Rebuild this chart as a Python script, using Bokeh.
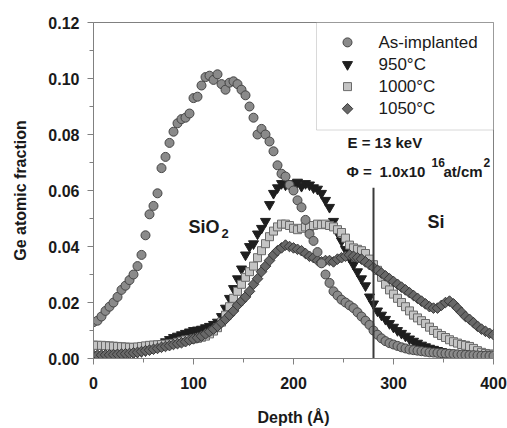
import math
from bokeh.plotting import figure
from bokeh.models import ColumnDataSource, Label, FixedTicker, BoxAnnotation
from bokeh.embed import file_html
from bokeh.resources import INLINE

# ---------------- data ----------------
depth = list(range(0, 401, 4))

as_implanted = [
    0.0130, 0.0135, 0.0150, 0.0170, 0.0185, 0.0200, 0.0220, 0.0245, 0.0260, 0.0280,
    0.0300, 0.0330, 0.0370, 0.0440, 0.0515, 0.0545, 0.0590, 0.0680, 0.0720, 0.0770,
    0.0810, 0.0840, 0.0855, 0.0860, 0.0875, 0.0930, 0.0935, 0.0975, 0.1005, 0.1010,
    0.0995, 0.1015, 0.0980, 0.0960, 0.0985, 0.0990, 0.0980, 0.0960, 0.0940, 0.0900,
    0.0860, 0.0800, 0.0820, 0.0800, 0.0775, 0.0740, 0.0690, 0.0660, 0.0650, 0.0620,
    0.0600, 0.0565, 0.0540, 0.0495, 0.0445, 0.0420, 0.0380, 0.0340, 0.0300, 0.0270,
    0.0240, 0.0225, 0.0210, 0.0200, 0.0190, 0.0180, 0.0165, 0.0150, 0.0135, 0.0120,
    0.0100, 0.0085, 0.0072, 0.0062, 0.0055, 0.0050, 0.0045, 0.0040, 0.0036, 0.0032,
    0.0030, 0.0028, 0.0026, 0.0024, 0.0022, 0.0021, 0.0020, 0.0019, 0.0018, 0.0017,
    0.0016, 0.0015, 0.0014, 0.0013, 0.0012, 0.0012, 0.0011, 0.0010, 0.0010, 0.0009,
    0.0009,
]

t950 = [
    0.0012, 0.0012, 0.0013, 0.0013, 0.0014, 0.0014, 0.0015, 0.0016, 0.0017, 0.0018,
    0.0020, 0.0022, 0.0025, 0.0028, 0.0032, 0.0038, 0.0045, 0.0052, 0.0060, 0.0068,
    0.0075, 0.0080, 0.0085, 0.0090, 0.0095, 0.0100, 0.0102, 0.0105, 0.0110, 0.0115,
    0.0122, 0.0130, 0.0150, 0.0180, 0.0215, 0.0250, 0.0285, 0.0320, 0.0370, 0.0400,
    0.0410, 0.0445, 0.0465, 0.0490, 0.0550, 0.0590, 0.0610, 0.0625, 0.0620, 0.0625,
    0.0620, 0.0630, 0.0615, 0.0625, 0.0620, 0.0610, 0.0605, 0.0590, 0.0565, 0.0540,
    0.0490, 0.0450, 0.0420, 0.0390, 0.0360, 0.0335, 0.0310, 0.0285, 0.0260, 0.0220,
    0.0195, 0.0170, 0.0155, 0.0140, 0.0125, 0.0112, 0.0100, 0.0090, 0.0080, 0.0070,
    0.0062, 0.0055, 0.0048, 0.0042, 0.0037, 0.0033, 0.0029, 0.0025, 0.0022, 0.0019,
    0.0017, 0.0015, 0.0013, 0.0012, 0.0010, 0.0009, 0.0008, 0.0008, 0.0007, 0.0006,
    0.0006,
]

t1000 = [
    0.0048, 0.0047, 0.0047, 0.0046, 0.0045, 0.0044, 0.0043, 0.0042, 0.0041, 0.0040,
    0.0040, 0.0041, 0.0043, 0.0045, 0.0047, 0.0048, 0.0049, 0.0050, 0.0051, 0.0052,
    0.0054, 0.0058, 0.0062, 0.0066, 0.0068, 0.0070, 0.0072, 0.0076, 0.0080, 0.0088,
    0.0098, 0.0110, 0.0130, 0.0155, 0.0185, 0.0215, 0.0240, 0.0265, 0.0290, 0.0310,
    0.0330, 0.0360, 0.0385, 0.0410, 0.0435, 0.0455, 0.0470, 0.0480, 0.0480, 0.0475,
    0.0465, 0.0460, 0.0465, 0.0470, 0.0470, 0.0475, 0.0480, 0.0478, 0.0480, 0.0475,
    0.0470, 0.0460, 0.0450, 0.0430, 0.0405, 0.0395, 0.0390, 0.0385, 0.0375, 0.0355,
    0.0335, 0.0315, 0.0290, 0.0265, 0.0245, 0.0230, 0.0215, 0.0200, 0.0185, 0.0170,
    0.0155, 0.0145, 0.0135, 0.0125, 0.0112, 0.0100, 0.0090, 0.0082, 0.0075, 0.0067,
    0.0060, 0.0055, 0.0050, 0.0047, 0.0043, 0.0036, 0.0028, 0.0022, 0.0018, 0.0016,
    0.0015,
]

t1050 = [
    0.0012, 0.0012, 0.0012, 0.0013, 0.0013, 0.0014, 0.0015, 0.0016, 0.0017, 0.0018,
    0.0020, 0.0022, 0.0025, 0.0028, 0.0030, 0.0033, 0.0036, 0.0040, 0.0043, 0.0046,
    0.0050, 0.0053, 0.0056, 0.0060, 0.0065, 0.0070, 0.0074, 0.0080, 0.0088, 0.0096,
    0.0105, 0.0115, 0.0128, 0.0140, 0.0155, 0.0170, 0.0190, 0.0205, 0.0220, 0.0240,
    0.0265, 0.0285, 0.0310, 0.0330, 0.0350, 0.0370, 0.0385, 0.0395, 0.0405, 0.0400,
    0.0395, 0.0390, 0.0385, 0.0375, 0.0365, 0.0360, 0.0350, 0.0345, 0.0350, 0.0350,
    0.0345, 0.0355, 0.0360, 0.0365, 0.0370, 0.0365, 0.0360, 0.0355, 0.0345, 0.0335,
    0.0325, 0.0315, 0.0305, 0.0295, 0.0285, 0.0275, 0.0265, 0.0255, 0.0245, 0.0235,
    0.0225, 0.0215, 0.0205, 0.0195, 0.0185, 0.0180, 0.0180, 0.0190, 0.0200, 0.0205,
    0.0195, 0.0180, 0.0165, 0.0150, 0.0140, 0.0128, 0.0115, 0.0105, 0.0097, 0.0090,
    0.0085,
]

series_labels = ["As-implanted", "950\u00b0C", "1000\u00b0C", "1050\u00b0C"]
interface_depth = [280]
interface_top = [0.061]
x_ticks = [0, 100, 200, 300, 400]
y_ticks = [0.00, 0.02, 0.04, 0.06, 0.08, 0.10, 0.12]

# ---------------- figure ----------------
FONT = "Liberation Sans"
TXT = "#1a1a1a"
AX = "#808080"

p = figure(width=507, height=428, x_range=(0, 400), y_range=(0, 0.12),
           output_backend="svg", toolbar_location=None,
           min_border_left=93, min_border_right=14,
           min_border_top=22, min_border_bottom=68)
p.background_fill_color = "white"
p.border_fill_color = "white"
p.outline_line_color = AX
p.outline_line_width = 1
p.xgrid.visible = False
p.ygrid.visible = False

src = ColumnDataSource(dict(depth=depth, a=as_implanted, b=t950, c=t1000, d=t1050))

TRI = dict(marker="inverted_triangle", size=10, fill_color="#1e1e1e", line_color="#1e1e1e", line_width=1)
SQ = dict(marker="square", size=8, fill_color="#c4c4c4", line_color="#6a6a6a", line_width=1)
DIA = dict(marker="square", size=7.5, angle=math.pi / 4, fill_color="#686868", line_color="#383838", line_width=1)
CIR = dict(marker="circle", size=9, fill_color="#8a8a8a", line_color="#454545", line_width=1)
styles = [CIR, TRI, SQ, DIA]

# legend frame (drawn underneath the data, no data falls inside it)
LEG_LEFT, LEG_BOTTOM = 223, 0.0816
box = BoxAnnotation(left=LEG_LEFT, right=400, bottom=LEG_BOTTOM, top=0.12,
                    fill_color="white", fill_alpha=1.0,
                    line_color=AX, line_width=1, level="underlay")
p.add_layout(box)

p.scatter("depth", "b", source=src, **TRI)
p.scatter("depth", "c", source=src, **SQ)
p.scatter("depth", "d", source=src, **DIA)
p.scatter("depth", "a", source=src, **CIR)

# interface line
p.segment(x0=interface_depth, y0=[0], x1=interface_depth, y1=interface_top,
          line_color="#3a3a3a", line_width=2)

# legend keys and labels
ROW0, ROW_STEP = 0.1129, 0.0079
for i, (name, st) in enumerate(zip(series_labels, styles)):
    yk = ROW0 - i * ROW_STEP
    p.scatter(x=[LEG_LEFT + 31], y=[yk], **st)
    p.add_layout(Label(x=LEG_LEFT + 62, y=yk, text=name, text_font=FONT,
                       text_font_size="17px", text_color=TXT, text_baseline="middle"))

# axes
for ax in (p.xaxis[0], p.yaxis[0]):
    ax.axis_line_color = AX
    ax.major_tick_line_color = AX
    ax.minor_tick_line_color = AX
    ax.major_tick_in = 0
    ax.major_tick_out = 6
    ax.minor_tick_in = 0
    ax.minor_tick_out = 4
    ax.major_label_text_font = FONT
    ax.major_label_text_font_style = "bold"
    ax.major_label_text_font_size = "16px"
    ax.major_label_text_color = TXT
    ax.axis_label_text_font = FONT
    ax.axis_label_text_font_style = "bold"
    ax.axis_label_text_font_size = "16px"
    ax.axis_label_text_color = TXT

p.xaxis.ticker = FixedTicker(ticks=x_ticks, minor_ticks=[50, 150, 250, 350])
p.yaxis.ticker = FixedTicker(ticks=y_ticks, minor_ticks=[0.01, 0.03, 0.05, 0.07, 0.09, 0.11])
p.yaxis.major_label_overrides = {t: f"{t:.2f}" for t in y_ticks}
p.xaxis.axis_label = "Depth (\u00c5)"
p.yaxis.axis_label = "Ge atomic fraction"
p.yaxis.major_label_standoff = 8
p.yaxis.axis_label_standoff = 16
p.xaxis.major_label_standoff = 12
p.xaxis.axis_label_standoff = 17

# annotations
def lab(x, y, text, size):
    p.add_layout(Label(x=x, y=y, text=text, text_font=FONT, text_font_style="bold",
                       text_font_size=size, text_color=TXT, text_baseline="middle"))

lab(95, 0.0469, "SiO", "18px")
lab(128, 0.0446, "2", "13px")
lab(334, 0.0486, "Si", "18px")
lab(254, 0.0770, "E = 13 keV", "15px")
lab(253, 0.0667, "\u03a6 =", "15px")
lab(286, 0.0667, "1.0x10", "15px")
lab(338, 0.0700, "16", "12px")
lab(350, 0.0667, "at/cm", "15px")
lab(390, 0.0700, "2", "12px")

open("out.html", "w").write(file_html(p, INLINE))
